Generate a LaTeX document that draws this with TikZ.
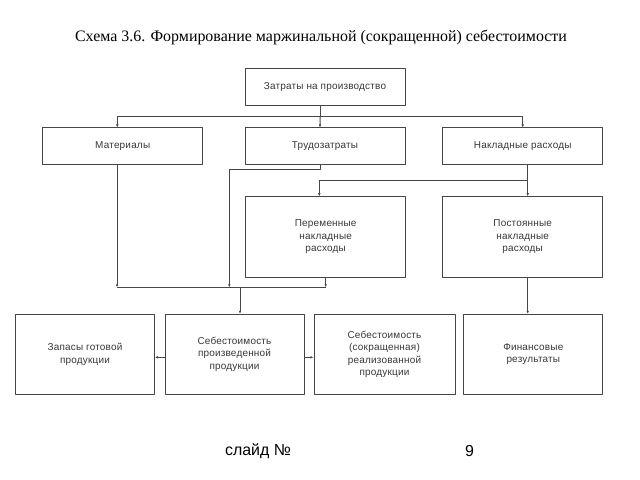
\documentclass[tikz,border=0pt]{standalone}
\usepackage{fontspec}
\setmainfont{Liberation Serif}
\newfontfamily\boxfont[LetterSpace=2]{Liberation Sans}
\newfontfamily\footfont{Liberation Sans}
\usetikzlibrary{arrows.meta}
\definecolor{linecol}{RGB}{70,70,70}
\definecolor{textcol}{RGB}{55,55,55}
\begin{document}
\begin{tikzpicture}[x=1bp,y=-1bp,>={Latex[length=3bp,width=2.6bp]},line join=bevel,
  box/.style={draw=linecol,line width=1bp,inner sep=0pt,align=center,text=textcol,
    font=\boxfont\fontsize{10}{12.5}\selectfont},
  wide/.style={box,minimum width=160bp,minimum height=37bp},
  tall/.style={box,minimum width=160bp,minimum height=80.5bp},
  low/.style={box,minimum width=139bp,minimum height=80bp},
  link/.style={draw=linecol,line width=1bp}]
  \useasboundingbox (0,0) rectangle (640,480);
%%
  % Title
  \node (title) at (321,37) {\fontsize{16}{19}\selectfont Схема 3.6. Формирование маржинальной (сокращенной) себестоимости};
  % Node: zatr
  \node[wide] (zatr) at (325,87.5) {Затраты на производство};
  % Node: mat
  \node[wide] (mat) at (122.7,146.5) {Материалы};
  % Node: trud
  \node[wide] (trud) at (325,146.5) {Трудозатраты};
  % Node: nakl
  \node[wide] (nakl) at (522.7,146.5) {Накладные расходы};
  % Node: perem
  \node[tall] (perem) at (325.7,237) {Переменные\\накладные\\расходы};
  % Node: post
  \node[tall] (post) at (522.7,237) {Постоянные\\накладные\\расходы};
  % Node: zapas
  \node[low] (zapas) at (85,354.3) {Запасы готовой\\продукции};
  % Node: sebpr
  \node[low] (sebpr) at (234.5,354.3) {Себестоимость\\произведенной\\продукции};
  % Node: sebreal
  \node[low,minimum width=141bp] (sebreal) at (384.5,354.3) {Себестоимость\\(сокращенная)\\реализованной\\продукции};
  % Node: fin
  \node[low] (fin) at (533.3,354.3) {Финансовые\\результаты};
  % Slide footer
  \node[font=\footfont\fontsize{16}{19}\selectfont] (slide) at (258,451) {слайд №};
  \node[font=\footfont\fontsize{16}{19}\selectfont] (num) at (469.5,451) {9};
%%
  % Junctions
  \coordinate (bus1) at (320,116.7);
  \coordinate (knee1) at (229.3,170);
  \coordinate (bus2) at (527.7,181);
  \coordinate (bus3) at (240,287.3);
  % Edge: zatr -> mat, trud, nakl
  \draw[link] (zatr.south -| bus1) -- (bus1);
  \draw[link,->] (bus1) -| ([xshift=-5.4bp]mat.north);
  \draw[link,->] (bus1) -- ([xshift=-5bp]trud.north);
  \draw[link,->] (bus1) -| (nakl.north);
  % Edge: mat -> sebpr
  \draw[link,->] ([xshift=-5.7bp]mat.south) -- ([xshift=-5.7bp]mat.south |- bus3);
  % Edge: trud -> sebpr
  \draw[link,->] ([xshift=-5bp]trud.south) |- (knee1) -- (knee1 |- bus3);
  % Edge: nakl -> perem, post
  \draw[link] (nakl.south -| bus2) -- (bus2);
  \draw[link,->] (bus2) -| ([xshift=-6.4bp]perem.north);
  \draw[link,->] (bus2) -- (post.north -| bus2);
  % Edge: perem -> sebpr
  \draw[link,->] (perem.south) -- (perem.south |- bus3);
  \draw[link] ([xshift=-5.7bp]mat.south |- bus3) -- (perem.south |- bus3);
  \draw[link,->] (bus3) -- (sebpr.north -| bus3);
  % Edge: post -> fin
  \draw[link,->] (post.south -| bus2) -- (fin.north -| bus2);
  % Edge: sebpr -> zapas, sebreal
  \draw[link,->] ([yshift=-3bp]sebpr.west) -- ([yshift=-3bp]zapas.east);
  \draw[link,->] ([yshift=-3bp]sebpr.east) -- ([yshift=-3bp]sebreal.west);
%
\end{tikzpicture}
\end{document}
